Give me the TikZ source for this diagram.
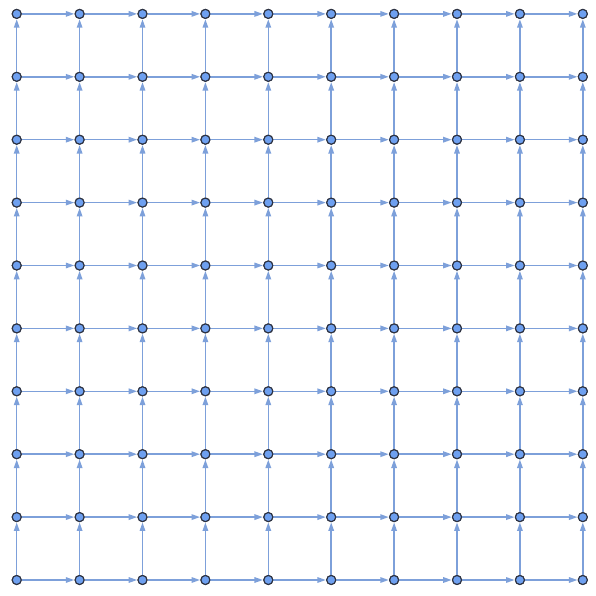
\documentclass[tikz,border=0pt]{standalone}
\usetikzlibrary{arrows.meta}
\definecolor{edgeblue}{RGB}{125,160,218}
\definecolor{vertblue}{RGB}{110,160,240}
\definecolor{vertrim}{RGB}{45,50,65}

\begin{document}
\begin{tikzpicture}[x=1pt, y=1pt,
  vert/.style={circle, fill=vertblue, draw=vertrim, line width=1.1pt, minimum size=9pt, inner sep=0pt},
  arc/.style={edgeblue, line width=1.5pt, -{Triangle[length=8.5pt, width=5.5pt]}, shorten >=0.3pt}]
\useasboundingbox (0,0) rectangle (596,596);

% vertices
\foreach \i in {0,...,9}
  \foreach \j in {0,...,9}
    \path (16.7+62.9*\i, 16+62.9*\j) node[vert] (v-\i-\j) {};

% edges to the right and upwards
\foreach \i in {0,...,8} {
  \pgfmathtruncatemacro{\k}{\i+1}
  \foreach \j in {0,...,9} {
    \draw[arc] (v-\i-\j) -- (v-\k-\j);
    \draw[arc] (v-\j-\i) -- (v-\j-\k);
  }
}

% redraw vertices on top
\foreach \i in {0,...,9}
  \foreach \j in {0,...,9}
    \path (v-\i-\j) node[vert] {};
\end{tikzpicture}
\end{document}
